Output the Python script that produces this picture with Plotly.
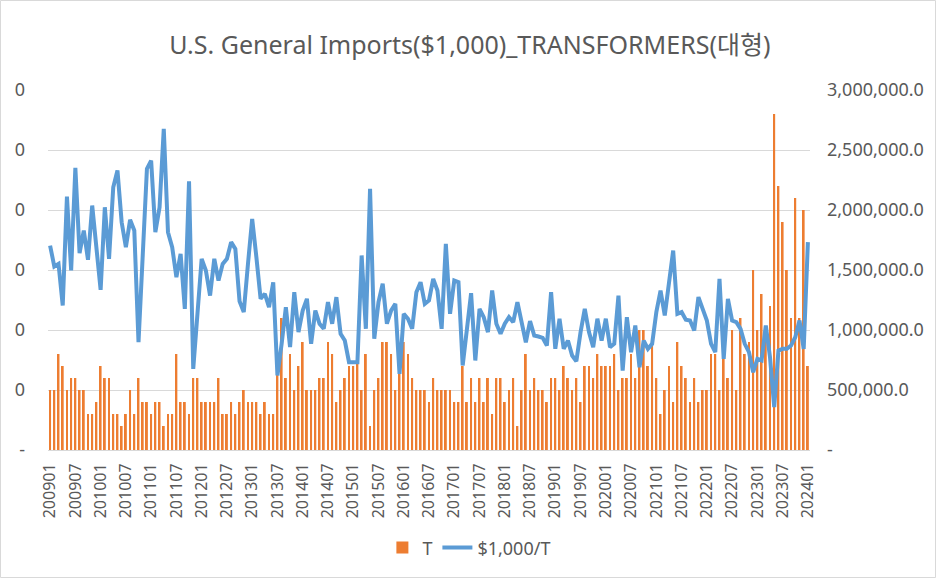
import plotly.graph_objects as go

# ---- data -------------------------------------------------------------
months = [f"{y}{m:02d}" for y in range(2009, 2025) for m in range(1, 13)][:181]

t_counts = [
    5, 5, 8, 7, 5, 6, 6, 5, 5, 3, 3, 4, 7, 6, 6, 3, 3, 2, 3, 5, 3, 6, 4,
    4, 3, 4, 4, 2, 3, 3, 8, 4, 4, 3, 6, 6, 4, 4, 4, 4, 6, 3, 3, 4, 3, 4,
    5, 4, 4, 4, 3, 4, 3, 3, 7, 11, 6, 8, 5, 7, 9, 5, 5, 5, 6, 6, 9, 8,
    4, 5, 6, 7, 7, 8, 5, 8, 2, 5, 6, 9, 9, 8, 5, 7, 9, 8, 6, 5, 5, 5, 4,
    6, 5, 5, 5, 5, 4, 4, 7, 4, 6, 4, 6, 4, 6, 3, 6, 6, 4, 5, 6, 2, 5, 8,
    5, 6, 5, 5, 4, 6, 6, 5, 7, 6, 5, 6, 4, 7, 7, 6, 8, 7, 7, 7, 8, 5,
    6, 6, 8, 6, 10, 10, 7, 9, 6, 3, 5, 7, 4, 9, 7, 6, 4, 6, 4, 5, 5, 8, 8,
    5, 8, 6, 10, 5, 11, 8, 9, 15, 10, 13, 10, 12, 28, 22, 19, 15, 11, 21, 11, 20, 7,
]

unit_value = [  # $1,000 per transformer
    1704000, 1529000, 1551000, 1204000, 2112000, 1496000, 2351000, 1640000, 1829000, 1585000,
    2037000, 1662000, 1335000, 2023000, 1593000, 2190000, 2329000, 1898000, 1690000, 1918000,
    1829000, 898000, 1600000, 2343000, 2412000, 1815000, 2023000, 2676000, 1815000, 1690000,
    1440000, 1635000, 1176000, 2240000, 676000, 1150000, 1593000, 1496000, 1287000, 1593000,
    1412000, 1551000, 1593000, 1732000, 1676000, 1240000, 1149000, 1551000, 1926000, 1607000,
    1260000, 1302000, 1190000, 1398000, 621000, 885000, 1190000, 857000, 1315000, 982000,
    1162000, 1260000, 885000, 1162000, 1052000, 1010000, 1232000, 1052000, 1274000, 968000,
    912000, 732000, 732000, 732000, 1621000, 1010000, 2176000, 927000, 1232000, 1385000,
    1052000, 1162000, 1218000, 635000, 1135000, 1094000, 1010000, 1315000, 1398000, 1218000,
    1246000, 1426000, 1329000, 1010000, 1718000, 1135000, 1412000, 1398000, 704000, 1010000,
    1307000, 746000, 1176000, 1107000, 982000, 1329000, 1052000, 968000, 1052000, 1107000,
    1065000, 1232000, 1079000, 898000, 1074000, 954000, 946000, 935000, 871000, 1315000,
    843000, 1094000, 843000, 912000, 787000, 740000, 982000, 1176000, 982000, 857000,
    1094000, 912000, 1094000, 857000, 885000, 1287000, 662000, 1107000, 815000, 1038000,
    690000, 912000, 843000, 885000, 1149000, 1329000, 1121000, 1385000, 1662000, 1135000,
    1149000, 1085000, 1079000, 996000, 1274000, 1176000, 1079000, 885000, 815000, 1426000,
    760000, 1260000, 1079000, 1065000, 1010000, 885000, 815000, 648000, 760000, 746000,
    1038000, 773000, 357000, 829000, 843000, 843000, 871000, 940000, 1079000, 843000,
    1732000,
]

x_ticks = months[::6]
left_ticks = [0, 5, 10, 15, 20, 25, 30]
left_labels = ["-", "0", "0", "0", "0", "0", "0"]
right_ticks = [0, 500000, 1000000, 1500000, 2000000, 2500000, 3000000]
right_labels = ["-", "500,000.0", "1,000,000.0", "1,500,000.0",
                "2,000,000.0", "2,500,000.0", "3,000,000.0"]

title_text = "U.S. General Imports($1,000)_TRANSFORMERS(대형)"

# ---- figure -----------------------------------------------------------
FONT = "Noto Sans, Noto Sans CJK KR, sans-serif"
GREY = "#595959"
GRID = "#d9d9d9"
W, H = 936, 578
L, R, T, B = 48, 126, 90, 128

fig = go.Figure()
fig.add_trace(go.Bar(x=months, y=t_counts, name="T",
                     marker=dict(color="#ED7D31", line=dict(width=0)),
                     yaxis="y"))
fig.add_trace(go.Scatter(x=months, y=unit_value, name="$1,000/T", mode="lines",
                         line=dict(color="#5B9BD5", width=4),
                         yaxis="y2"))

pw, ph = W - L - R, H - T - B
fig.update_layout(
    width=W, height=H, autosize=False,
    margin=dict(l=L, r=R, t=T, b=B, pad=0),
    paper_bgcolor="white", plot_bgcolor="white",
    font=dict(family=FONT, color=GREY, size=17),
    title=dict(text=title_text, x=0.502, xanchor="center", y=1 - 45 / H,
               yanchor="middle", font=dict(family=FONT, size=25, color=GREY)),
    bargap=0.55,
    showlegend=True,
    legend=dict(orientation="h", x=0.553, xanchor="center", y=-0.272,
                yanchor="middle", font=dict(size=18, color=GREY),
                bgcolor="rgba(0,0,0,0)"),
    xaxis=dict(type="category", tickmode="array", tickvals=x_ticks,
               ticktext=x_ticks, tickangle=-90, showgrid=False,
               showline=True, linecolor=GRID, linewidth=1, ticks="",
               tickfont=dict(size=16, color=GREY), ticklabelstandoff=6),
    yaxis=dict(range=[0, 30], tickmode="array", tickvals=left_ticks,
               ticktext=left_labels, showgrid=True, gridcolor=GRID,
               gridwidth=1, zeroline=False, showline=False, ticks="",
               tickfont=dict(size=18, color=GREY), ticklabelstandoff=22),
    yaxis2=dict(range=[0, 3000000], overlaying="y", side="right",
                tickmode="array", tickvals=right_ticks, ticktext=right_labels,
                showgrid=False, zeroline=False, showline=False, ticks="",
                tickfont=dict(size=18, color=GREY), ticklabelstandoff=16),
    shapes=[dict(type="rect", xref="paper", yref="paper",
                 x0=-(L - 0.5) / pw, x1=(W - L - 0.5) / pw,
                 y0=-(B - 0.5) / ph, y1=(H - B - 0.5) / ph,
                 line=dict(color=GRID, width=1), fillcolor="rgba(0,0,0,0)",
                 layer="below")],
)

fig.write_html("out.html")
